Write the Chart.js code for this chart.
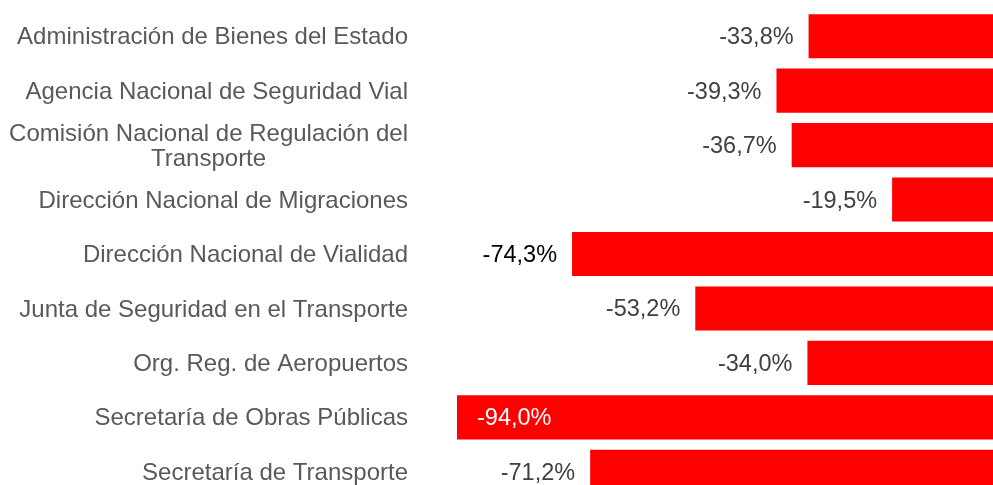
<!DOCTYPE html>
<html>
<head>
<meta charset="utf-8">
<script src="https://cdn.jsdelivr.net/npm/chart.js@4"></script>
<style>
  html, body { margin: 0; padding: 0; background: #fff; overflow: hidden; }
  #wrap { position: absolute; left: 0; top: 0; width: 1006px; height: 500px; }
</style>
</head>
<body>
<div id="wrap"><canvas id="chart"></canvas></div>
<script>
const categories = [
    'Administración de Bienes del Estado',
    'Agencia Nacional de Seguridad Vial',
    ['Comisión Nacional de Regulación del', 'Transporte'],
    'Dirección Nacional de Migraciones',
    'Dirección Nacional de Vialidad',
    'Junta de Seguridad en el Transporte',
    'Org. Reg. de Aeropuertos',
    'Secretaría de Obras Públicas',
    'Secretaría de Transporte'
];
const values = [-33.8, -39.3, -36.7, -19.5, -74.3, -53.2, -34.0, -94.0, -71.2];

// colour of each value label (one of them is black in the original)
const valueColors = ['#404040', '#404040', '#404040', '#404040', '#000000', '#404040', '#404040', '#404040', '#404040'];

const FONT = 'Arial, "Liberation Sans", sans-serif';
const fmt = v => v.toFixed(1).replace('.', ',') + '%';

// draws the category names and the value labels
const labelsPlugin = {
    id: 'labels',
    afterDatasetsDraw(chart) {
        const ctx = chart.ctx;
        const y = chart.scales.y;
        const x = chart.scales.x;
        ctx.save();
        ctx.textBaseline = 'middle';

        // category labels, right edge 49px left of the plot
        ctx.font = '24px ' + FONT;
        categories.forEach((cat, i) => {
            const lines = Array.isArray(cat) ? cat : [cat];
            const cy = y.getPixelForValue(i) + 1.5;
            const lh = 25;
            const w = Math.max(...lines.map(l => ctx.measureText(l).width));
            const right = chart.chartArea.left - 49;
            ctx.fillStyle = '#595959';
            ctx.textAlign = 'center';
            lines.forEach((l, j) => {
                ctx.fillText(l, right - w / 2, cy + (j - (lines.length - 1) / 2) * lh);
            });
        });

        // value labels
        ctx.font = '23.5px ' + FONT;
        const meta = chart.getDatasetMeta(0);
        values.forEach((v, i) => {
            const bar = meta.data[i];
            const txt = fmt(v);
            const tw = ctx.measureText(txt).width;
            const left = x.getPixelForValue(v);
            if (left - 15 - tw < chart.chartArea.left) {
                ctx.fillStyle = '#ffffff';
                ctx.textAlign = 'left';
                ctx.fillText(txt, left + 20, bar.y + 1.5);
            } else {
                ctx.fillStyle = valueColors[i];
                ctx.textAlign = 'right';
                ctx.fillText(txt, left - 15, bar.y + 1.5);
            }
        });
        ctx.restore();
    }
};

const ctx = document.getElementById('chart').getContext('2d');
const chart = new Chart(ctx, {
    type: 'bar',
    data: {
        labels: categories,
        datasets: [{
            data: values,
            backgroundColor: '#ff0000',
            borderWidth: 0,
            barPercentage: 0.81,
            categoryPercentage: 1
        }]
    },
    options: {
        indexAxis: 'y',
        responsive: true,
        maintainAspectRatio: false,
        animation: false,
        layout: { padding: { left: 457, top: 9, bottom: 1, right: 0 } },
        plugins: {
            legend: { display: false },
            tooltip: { enabled: false }
        },
        scales: {
            x: { display: false, min: -94, max: 0 },
            y: { display: false }
        }
    },
    plugins: [labelsPlugin]
});
</script>
</body>
</html>
